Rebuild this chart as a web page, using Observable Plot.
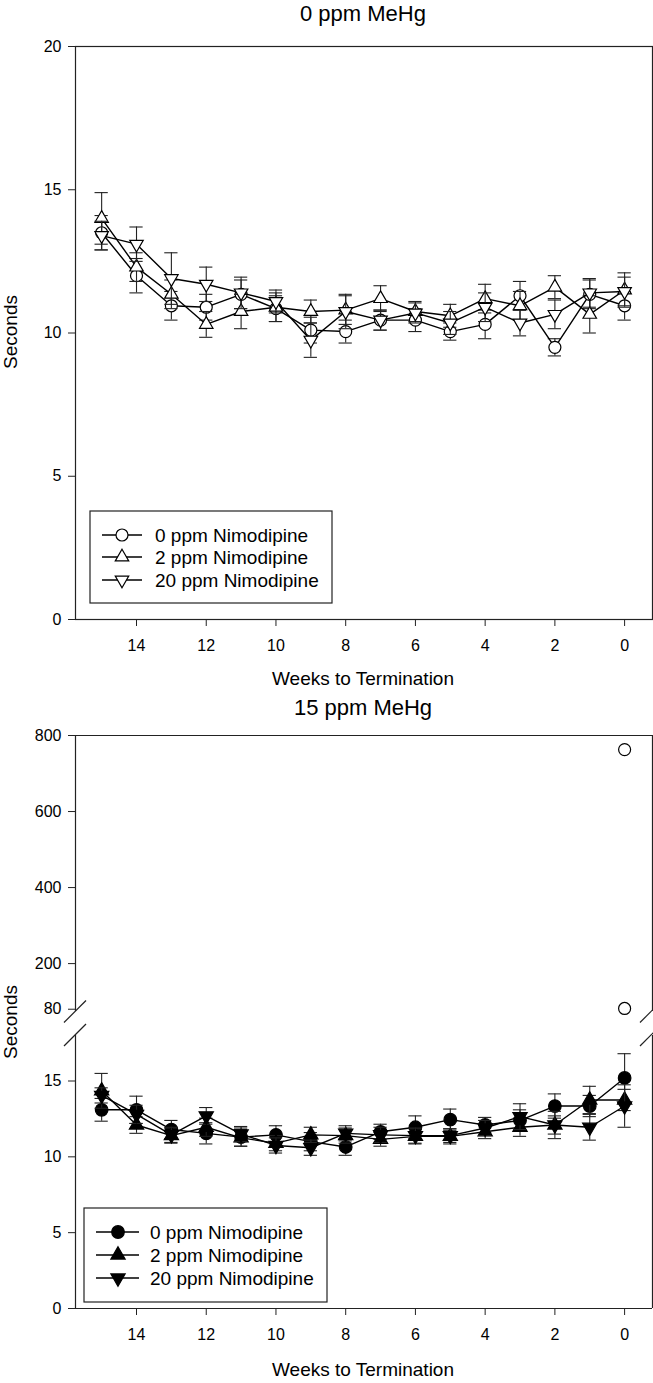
<!DOCTYPE html>
<html><head><meta charset="utf-8">
<script src="https://cdn.jsdelivr.net/npm/d3@7"></script>
<script src="https://cdn.jsdelivr.net/npm/@observablehq/plot@0.6"></script>
<style>
body{margin:0;background:#fff;}
#root{position:relative;width:653px;height:1383px;overflow:hidden;font-family:"Liberation Sans",Arial,sans-serif;color:#000;}
#root > svg, #root > div{position:absolute;}
.t{position:absolute;white-space:nowrap;line-height:1;}
</style></head><body><div id="root"></div>
<script>
// ---------- data ----------
const weeks = [15,14,13,12,11,10,9,8,7,6,5,4,3,2,1,0];
const xTicks = [14,12,10,8,6,4,2,0];
const seriesNames = ["0 ppm Nimodipine","2 ppm Nimodipine","20 ppm Nimodipine"];
const panelTitles = ["0 ppm MeHg","15 ppm MeHg"];
const xLabel = "Weeks to Termination";
const yLabel = "Seconds";

// 0 ppm MeHg panel
const top0Mean = [13.5,12.0,10.95,10.9,11.35,10.85,10.1,10.05,10.45,10.45,10.05,10.3,11.3,9.5,11.35,10.95];
const top0SE   = [0.6,0.6,0.5,0.45,0.5,0.45,0.45,0.4,0.35,0.4,0.3,0.5,0.5,0.3,0.5,0.5];
const top2Mean = [14.0,12.3,11.35,10.3,10.75,10.9,10.75,10.8,11.2,10.75,10.6,11.2,10.95,11.6,10.65,11.5];
const top2SE   = [0.9,0.5,0.5,0.45,0.6,0.5,0.4,0.5,0.45,0.35,0.4,0.5,0.5,0.4,0.65,0.6];
const top20Mean= [13.4,13.1,11.9,11.7,11.4,11.1,9.75,10.75,10.45,10.7,10.35,10.9,10.35,10.65,11.4,11.45];
const top20SE  = [0.5,0.6,0.9,0.6,0.55,0.4,0.6,0.6,0.35,0.35,0.4,0.5,0.45,0.5,0.5,0.5];
const topYTicks = [0,5,10,15,20];

// 15 ppm MeHg panel
const bot0Mean = [13.1,13.1,11.8,11.55,11.3,11.45,11.0,10.65,11.65,11.95,12.45,12.1,12.4,13.35,13.35,15.2];
const bot0SE   = [0.75,0.9,0.6,0.7,0.6,0.6,0.6,0.55,0.5,0.75,0.7,0.5,0.7,0.8,0.7,1.6];
const bot2Mean = [14.35,12.1,11.4,11.95,11.25,10.9,11.45,11.4,11.15,11.35,11.35,11.65,11.95,12.1,13.75,13.75];
const bot2SE   = [1.15,0.55,0.5,0.6,0.55,0.5,0.5,0.5,0.45,0.5,0.5,0.45,0.6,0.9,0.9,0.7];
const bot20Mean= [14.05,12.8,11.45,12.7,11.5,10.75,10.6,11.55,11.45,11.4,11.4,11.9,12.65,12.1,11.95,13.35];
const bot20SE  = [0.5,0.6,0.5,0.55,0.5,0.5,0.5,0.5,0.5,0.5,0.45,0.5,0.85,0.6,0.85,1.4];
const outlierWeeks = [0,0];
const outlierValues = [763,82];
const botUpperTicks = [80,200,400,600,800];
const botLowerTicks = [0,5,10,15];

// ---------- helpers ----------
const root = document.getElementById("root");
const FONT = '"Liberation Sans", Arial, sans-serif';
const sqrt3 = Math.sqrt(3);
const triangleDown = {draw(ctx, size){ const y = -Math.sqrt(size/(sqrt3*3)); ctx.moveTo(0,-y*2); ctx.lineTo(-sqrt3*y, y); ctx.lineTo(sqrt3*y, y); ctx.closePath(); }};
const xDomain = [15.75,-0.8];
const CAP = 0.19;

function rows(mean, se){ return weeks.map((w,i)=>({w, v:mean[i], se:se[i]})); }
function seriesMarks(data, symbol, r, fill){
  return [
    Plot.ruleX(data,{x:"w", y1:d=>d.v-d.se, y2:d=>d.v+d.se, stroke:"#222", strokeWidth:1.1}),
    Plot.ruleY(data,{y:d=>d.v+d.se, x1:d=>d.w-CAP, x2:d=>d.w+CAP, stroke:"#222", strokeWidth:1.1}),
    Plot.ruleY(data,{y:d=>d.v-d.se, x1:d=>d.w-CAP, x2:d=>d.w+CAP, stroke:"#222", strokeWidth:1.1}),
    Plot.line(data,{x:"w", y:"v", stroke:"#000", strokeWidth:1.4}),
    Plot.dot(data,{x:"w", y:"v", symbol, r, fill, stroke:"#000", strokeWidth:1.2})
  ];
}
function place(el, left, top){ el.style.left = left+"px"; el.style.top = top+"px"; root.appendChild(el); }
function text(str, left, top, size, opts={}){
  const d = document.createElement("div"); d.className="t"; d.textContent=str;
  d.style.fontSize=size+"px"; d.style.left=left+"px"; d.style.top=top+"px";
  if (opts.center) d.style.transform = "translateX(-50%)";
  if (opts.rotate) { d.style.transformOrigin="0 0"; d.style.transform = "rotate(-90deg) translateX(-50%)"; }
  root.appendChild(d); return d;
}
const style = {fontFamily: FONT, fontSize: "16px", background: "transparent", color:"#000", overflow:"visible"};

// ---------- top panel ----------
const topPlot = Plot.plot({
  width: 653, height: 700, marginLeft: 75, marginRight: 1, marginTop: 46, marginBottom: 81,
  style,
  x: {domain: xDomain},
  y: {domain: [0,20]},
  marks: [
    Plot.frame({stroke:"#222", strokeWidth:1.2}),
    Plot.axisX({ticks: xTicks, tickSize: 7, tickPadding: 13, label: null, stroke:"#222"}),
    Plot.axisY({ticks: topYTicks, tickSize: 7, tickPadding: 7, label: null, stroke:"#222"}),
    ...seriesMarks(rows(top0Mean, top0SE), "circle", 6, "white"),
    ...seriesMarks(rows(top2Mean, top2SE), "triangle", 5, "white"),
    ...seriesMarks(rows(top20Mean, top20SE), triangleDown, 5, "white")
  ]
});
place(topPlot, 0, 0);

// ---------- bottom panel: upper segment ----------
const upPlot = Plot.plot({
  width: 653, height: 320, marginLeft: 75, marginRight: 1, marginTop: 35, marginBottom: 9,
  style,
  x: {domain: xDomain, axis: null},
  y: {domain: [74,800]},
  marks: [
    Plot.ruleY([800], {stroke:"#222", strokeWidth:1.2}),
    Plot.ruleX([xDomain[0], xDomain[1]], {stroke:"#222", strokeWidth:1.2}),
    Plot.axisY({ticks: botUpperTicks, tickSize: 7, tickPadding: 7, label: null, stroke:"#222"}),
    Plot.dot(outlierWeeks.map((w,i)=>({w, v:outlierValues[i]})), {x:"w", y:"v", r:6, fill:"white", stroke:"#000", strokeWidth:1.2})
  ]
});
place(upPlot, 0, 700);

// ---------- bottom panel: lower segment ----------
const lowPlot = Plot.plot({
  width: 653, height: 363, marginLeft: 75, marginRight: 1, marginTop: 15, marginBottom: 75,
  style,
  x: {domain: xDomain},
  y: {domain: [0,18]},
  marks: [
    Plot.ruleY([0], {stroke:"#222", strokeWidth:1.2}),
    Plot.ruleX([xDomain[0], xDomain[1]], {stroke:"#222", strokeWidth:1.2}),
    Plot.axisX({ticks: xTicks, tickSize: 7, tickPadding: 13, label: null, stroke:"#222"}),
    Plot.axisY({ticks: botLowerTicks, tickSize: 7, tickPadding: 7, label: null, stroke:"#222"}),
    ...seriesMarks(rows(bot0Mean, bot0SE), "circle", 6.3, "black"),
    ...seriesMarks(rows(bot2Mean, bot2SE), "triangle", 5.3, "black"),
    ...seriesMarks(rows(bot20Mean, bot20SE), triangleDown, 5.3, "black")
  ]
});
place(lowPlot, 0, 1020);

// ---------- texts ----------
text(panelTitles[0], 363, 3, 22, {center:true});
text(panelTitles[1], 363, 697, 22, {center:true});
text(xLabel, 363, 669, 19, {center:true});
text(xLabel, 363, 1360, 19, {center:true});
text(yLabel, 1, 332, 19, {rotate:true});
text(yLabel, 1, 1022, 19, {rotate:true});

// ---------- overlay: legends and axis breaks ----------
const NS = "http://www.w3.org/2000/svg";
const ov = document.createElementNS(NS,"svg");
ov.setAttribute("width",653); ov.setAttribute("height",1383);
ov.style.position="absolute"; ov.style.left="0"; ov.style.top="0"; ov.style.pointerEvents="none";
root.appendChild(ov);
function el(tag, attrs){ const e=document.createElementNS(NS,tag); for(const k in attrs) e.setAttribute(k,attrs[k]); ov.appendChild(e); return e; }
function symPath(sym, r){ const s = r*r*Math.PI; return d3.symbol(sym, s)(); }
function legend(x0,y0,x1,y1,rowsY,lineX0,lineX1,symX,textX,filled){
  el("rect",{x:x0,y:y0,width:x1-x0,height:y1-y0,fill:"white",stroke:"#222","stroke-width":1.2});
  const syms = [d3.symbolCircle, d3.symbolTriangle, triangleDown];
  const rs = filled ? [6.3,5.3,5.3] : [6,5,5];
  seriesNames.forEach((name,i)=>{
    const y = rowsY[i];
    el("line",{x1:lineX0,x2:lineX1,y1:y,y2:y,stroke:"#000","stroke-width":1.4});
    el("path",{d:symPath(syms[i],rs[i]),transform:`translate(${symX},${y})`,fill:filled?"black":"white",stroke:"#000","stroke-width":1.2});
    const t = el("text",{x:textX,y:y+7,"font-size":19,"font-family":FONT,fill:"#000"}); t.textContent=name;
  });
}
legend(90,511,332,603,[535,557,580],102,142,122,155,false);
legend(84,1208,327,1302,[1232,1255,1278],96,139,118,150,true);

// axis-break marks
[[75,1011.5],[75,1035],[651,1011.5],[651,1035]].forEach(([cx,cy])=>{
  el("line",{x1:cx-11,y1:cy+11,x2:cx+11,y2:cy-11,stroke:"#222","stroke-width":1.2});
});
</script>
</body></html>
